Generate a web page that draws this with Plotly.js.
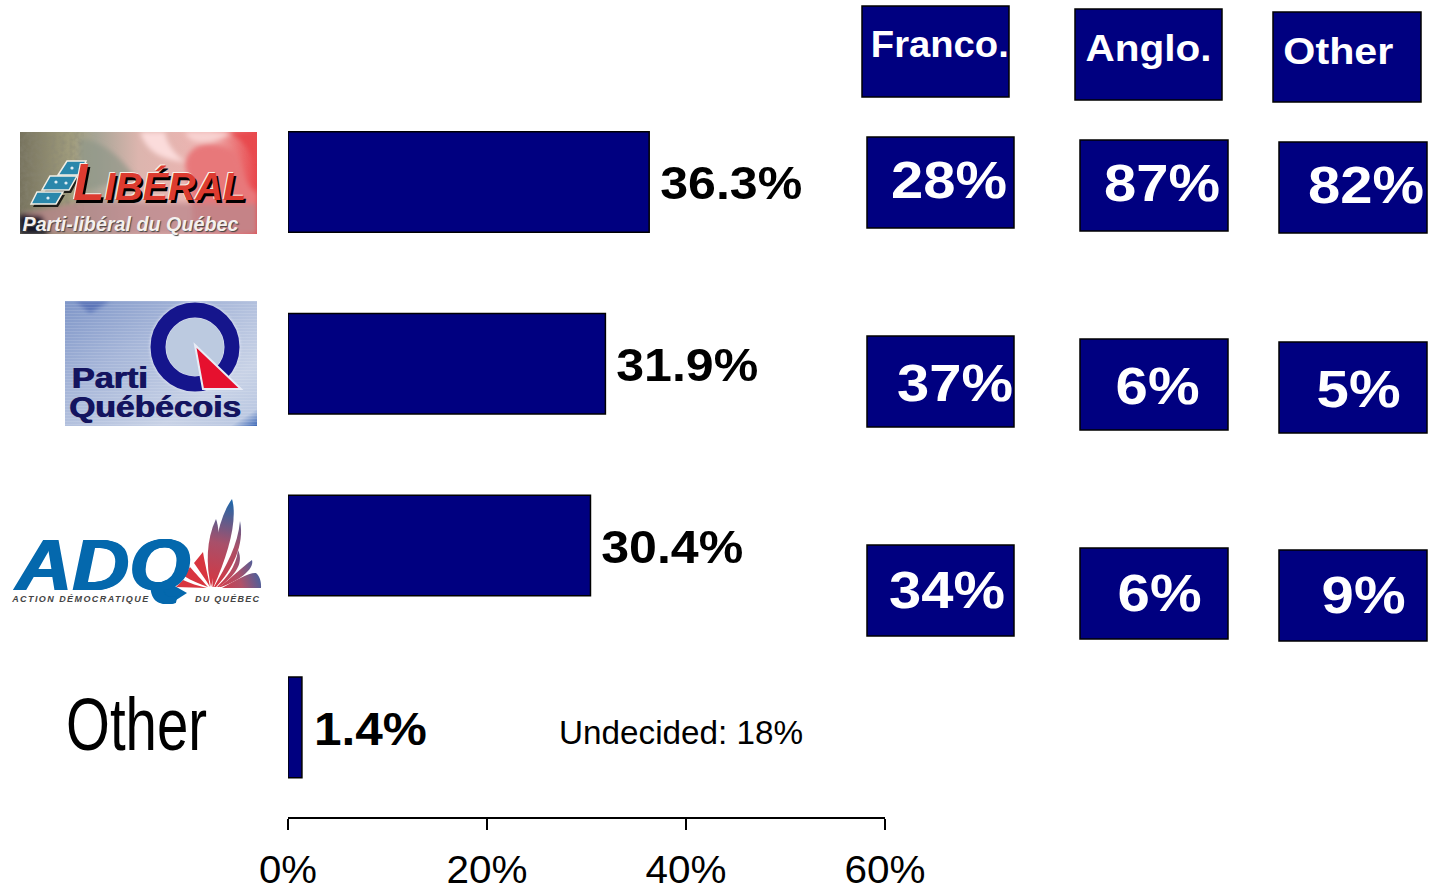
<!DOCTYPE html>
<html><head><meta charset="utf-8">
<script src="https://cdn.plot.ly/plotly-3.0.1.min.js"></script>
<style>html,body{margin:0;padding:0;background:#fff;overflow:hidden}#c{width:1435px;height:890px}</style>
</head><body><div id="c"></div>
<script>
// ---- data ----
const parties = ['Liberal', 'PQ', 'ADQ', 'Other'];
const share = [36.3, 31.9, 30.4, 1.4];
const franco = [28, 37, 34];
const anglo = [87, 6, 6];
const otherLang = [82, 5, 9];
const groupNames = ['Franco.', 'Anglo.', 'Other'];
const axisTicks = [0, 20, 40, 60];
const undecidedText = 'Undecided: 18%';

// ---- layout helpers ----
const L = 288, R = 885, T = 91, B = 817;
const px = x => (x - L) / (R - L);
const py = y => (B - y) / (B - T);
const NAVY = '#000080';
const SANS = '"Liberation Sans", Arial, sans-serif';

const shapes = [], annotations = [], images = [], stretched = [];
function box(x0, y0, x1, y1) {
  shapes.push({type: 'rect', xref: 'paper', yref: 'paper', x0: px(x0), x1: px(x1), y0: py(y0), y1: py(y1),
    fillcolor: NAVY, line: {color: '#000', width: 1.5}});
}
function label(text, x, y, size, opts) {
  opts = opts || {};
  if (opts.width) stretched.push({i: annotations.length, width: opts.width, adjust: opts.adjust || 'spacingAndGlyphs'});
  annotations.push({text, xref: 'paper', yref: 'paper', x: px(x), y: py(y),
    xanchor: opts.anchor || 'center', yanchor: 'middle', showarrow: false, borderpad: 0,
    font: Object.assign({family: opts.family || SANS, size, color: opts.color || '#000',
      weight: opts.weight || 400, style: opts.style || 'normal'}, opts.shadow ? {shadow: opts.shadow} : {})});
}
function art(svg, x, y, w, h) {
  images.push({source: 'data:image/svg+xml;utf8,' + encodeURIComponent(svg),
    xref: 'paper', yref: 'paper', x: px(x), y: py(y), sizex: w / (R - L), sizey: h / (B - T),
    xanchor: 'left', yanchor: 'top', sizing: 'stretch', layer: 'above'});
}

// language group header boxes and value boxes
const headerBoxes = [[862, 6, 1009, 97], [1075, 9, 1222, 100], [1273, 12, 1421, 102]];
headerBoxes.forEach(b => box(...b));
label(groupNames[0], 940, 45, 37, {color: '#fff', weight: 700, width: 138});
label(groupNames[1], 1148, 49, 37, {color: '#fff', weight: 700, width: 126});
label(groupNames[2], 1338, 51, 37, {color: '#fff', weight: 700, width: 110});

const rowTop = [[137, 140, 142], [336, 339, 342], [545, 548, 550]];
const rowTextOffset = [43, 47, 45];
const colX = [[867, 1014], [1080, 1228], [1279, 1427]];
const textCx = [[949, 1162, 1366], [955, 1157, 1358], [947, 1159, 1363]];
const groups = [franco, anglo, otherLang];
rowTop.forEach((row, r) => row.forEach((top, c) => {
  box(colX[c][0], top, colX[c][1], top + 91);
  const v = groups[c][r];
  label(v + '%', textCx[r][c], top + rowTextOffset[r], 52,
    {color: '#fff', weight: 700, width: v >= 10 ? 116 : 84});
}));

// bar value labels (stretched to the wide glyphs of the reference)
const labelGap = [11, 11, 11, 12];
const labelWidth = [142, 142, 142, 113];
share.forEach((v, i) => {
  stretched.push({i: annotations.length, width: labelWidth[i], adjust: 'spacingAndGlyphs'});
  annotations.push({text: v.toFixed(1) + '%', x: v, y: parties[i], xref: 'x', yref: 'y',
    xanchor: 'center', yanchor: 'middle', xshift: labelGap[i] + labelWidth[i] / 2, yshift: -1.5, showarrow: false, borderpad: 0,
    font: {family: SANS, size: 46, color: '#000', weight: 700}});
});
label(undecidedText, 681, 732, 33, {width: 244});
label('Other', 136.5, 724, 74, {width: 141});

// ---- logo artwork ----
art(`<svg xmlns="http://www.w3.org/2000/svg" width="237" height="102" viewBox="0 0 237 102">
<defs>
<linearGradient id="g" x1="0" x2="1" y1="0" y2="0"><stop offset="0" stop-color="#77735e"/><stop offset=".22" stop-color="#a29e7e"/><stop offset=".32" stop-color="#a7a596"/><stop offset=".5" stop-color="#dcb5ae"/><stop offset=".8" stop-color="#efb4b2"/><stop offset="1" stop-color="#e8474c"/></linearGradient>
<filter id="t"><feTurbulence type="fractalNoise" baseFrequency=".22" numOctaves="2" seed="4"/><feColorMatrix values="0 0 0 0 .25 0 0 0 0 .24 0 0 0 0 .18 0 0 0 1.3 -.45"/></filter>
<filter id="b"><feGaussianBlur stdDeviation="2.5"/></filter>
<filter id="b1"><feGaussianBlur stdDeviation=".6"/></filter>
</defs>
<rect width="237" height="102" fill="url(#g)"/>
<rect width="58" height="75" filter="url(#t)" opacity=".75"/>
<g filter="url(#b)">
<path d="M120 0C128 25 150 28 165 30C150 18 146 8 145 0Z" fill="#fbdcdb"/>
<path d="M165 0C170 15 195 12 215 0Z" fill="#f8d3d2"/>
<path d="M165 32C170 8 195 8 215 20C225 35 222 55 237 60L237 102L170 102C176 85 170 60 165 32Z" fill="#e8787a"/>
<path d="M205 0C225 5 228 20 237 30L237 0Z" fill="#e84a4e"/>
<path d="M60 6C80 10 95 18 115 45L60 60Z" fill="#8f9788" opacity=".7"/>
<path d="M0 82L60 70L237 72L237 102L0 102Z" fill="#b9878c" opacity=".75"/>
<path d="M0 82L22 84L30 102L0 102Z" fill="#141428"/>
</g>
<g filter="url(#b1)">
<g fill="#000" opacity=".8" transform="translate(2 3)"><path d="M47 29L66 29L60 43L38 43Z"/><path d="M30 43L57 43L49 58L22 58Z"/><path d="M17 60L43 60L36 72L11 72Z"/></g>
<g fill="#2b87ab" stroke="#f2efe6" stroke-width="1.5">
<path d="M47 29L66 29L60 43L38 43Z"/><path d="M30 44L57 44L49 58L22 58Z"/><path d="M17 60L43 60L36 72L11 72Z"/>
</g>
<g fill="#dfeef4"><circle cx="52" cy="36" r="1.6"/><circle cx="36" cy="50" r="1.6"/><circle cx="46" cy="51" r="1.6"/><circle cx="28" cy="66" r="1.6"/></g>
</g>
</svg>`, 20, 132, 237, 102);

art(`<svg xmlns="http://www.w3.org/2000/svg" width="192" height="125" viewBox="0 0 192 125">
<defs>
<linearGradient id="g" x1="0" x2="1" y1="0" y2="1"><stop offset="0" stop-color="#7f96c8"/><stop offset=".35" stop-color="#a5b5d8"/><stop offset=".75" stop-color="#c8d2e6"/><stop offset=".93" stop-color="#bcc9e2"/><stop offset="1" stop-color="#3a66b6"/></linearGradient>
<filter id="b"><feGaussianBlur stdDeviation="2"/></filter>
<filter id="h"><feGaussianBlur stdDeviation="1.5"/></filter>
<pattern id="s" width="4" height="3" patternUnits="userSpaceOnUse"><rect width="4" height="1" fill="#fff" opacity=".12"/></pattern>
</defs>
<rect width="192" height="125" fill="url(#g)"/>
<path d="M10 0L45 0L25 12Z" fill="#5b74b8" filter="url(#b)"/>
<rect width="192" height="125" fill="url(#s)"/>
<circle cx="130" cy="46" r="45" fill="#dfe4f4" filter="url(#h)"/>
<circle cx="130" cy="46" r="29" fill="#bccae0"/>
<circle cx="130" cy="46" r="37" fill="none" stroke="#15158c" stroke-width="15"/>
<path d="M130 44L176 88L138 88Z" fill="#e6102e" stroke="#e8ecf6" stroke-width="2"/>
</svg>`, 65, 301, 192, 125);

const f = (d, id) => `<path d="${d}" fill="url(#${id})"/>`;
art(`<svg xmlns="http://www.w3.org/2000/svg" width="120" height="112" viewBox="150 495 120 112">
<defs>
<linearGradient id="a" gradientUnits="userSpaceOnUse" x1="212" y1="588" x2="232" y2="499"><stop offset="0" stop-color="#d8353f"/><stop offset=".5" stop-color="#a8506a"/><stop offset="1" stop-color="#1868ad"/></linearGradient>
<linearGradient id="c" gradientUnits="userSpaceOnUse" x1="212" y1="588" x2="261" y2="570"><stop offset="0" stop-color="#d8353f"/><stop offset=".55" stop-color="#b05068"/><stop offset="1" stop-color="#3a62a4"/></linearGradient>
</defs>
<path d="M157 590L173 602L187 593L173 585Z" fill="#0468ad"/>
${f('M212.5 587C212 555 218 518 232 499C238 520 228 555 213.5 587Z', 'a')}
${f('M214 587C226 566 238 545 240 521C245 545 232 570 216 587Z', 'a')}
${f('M211 587C206 565 206 540 216 519C222 535 216 565 211.5 585Z', 'a')}
${f('M217 587C226 578 236 568 238 550C245 565 232 578 219 587Z', 'c')}
${f('M219 587C232 578 242 567 252 560C255 570 236 582 221 587Z', 'c')}
${f('M222 588C236 580 250 572 256 573C262 578 261 587 261 588Z', 'c')}
<path d="M210 587C208 575 205 565 203 552L194 563C200 572 206 580 210 587Z" fill="#d8353f"/>
<path d="M208 587C201 579 196 574 190 567L184 576C192 581 200 584 208 587Z" fill="#d8353f"/>
<path d="M207 588C198 586 190 583 183 580L176 587Z" fill="#d8353f"/>
</svg>`, 150, 495, 120, 112);

// logo wording
label('<span style="font-size:52px">L</span>IBÉRAL', 159, 182, 38, {color: '#dd3b30', weight: 700, style: 'italic', shadow: '2px 3px 0 #000, -1px -1px 0 #f7efe8'});
label('Parti-libéral du Québec', 130, 224, 20, {color: '#f4f0ee', weight: 700, style: 'italic', width: 216, shadow: '1px 1px 1px #444'});
label('Parti', 109, 377, 30, {color: '#14145f', weight: 700, width: 76, shadow: '1px 0 0 #14145f'});
label('Québécois', 154, 407, 30, {color: '#14145f', weight: 700, width: 172, shadow: '1px 0 0 #14145f'});
label('ADQ', 102, 565, 72, {color: '#0468ad', weight: 700, style: 'italic', width: 175, shadow: '1px 0 0 #0468ad, -1px 0 0 #0468ad'});
label('ACTION DÉMOCRATIQUE', 80, 599, 9, {color: '#444', weight: 700, style: 'italic', width: 136, adjust: 'spacing'});
label('DU QUÉBEC', 227, 599, 9, {color: '#444', weight: 700, style: 'italic', width: 64, adjust: 'spacing'});

const tickWidth = [58, 81, 81, 81];
Plotly.newPlot('c', [{
  type: 'bar', orientation: 'h', y: parties, x: share, width: 0.553,
  marker: {color: NAVY, line: {color: '#000', width: 1.5}}, hoverinfo: 'skip'
}], {
  width: 1435, height: 890, autosize: false, showlegend: false,
  margin: {l: L, r: 1435 - R, t: T, b: 890 - B, pad: 0},
  paper_bgcolor: '#fff', plot_bgcolor: '#fff',
  xaxis: {range: [0, 60], tickvals: axisTicks, ticktext: axisTicks.map(t => t + '%'),
    ticks: 'outside', ticklen: 11, tickwidth: 1.5, tickcolor: '#000', showline: true, linecolor: '#000', linewidth: 1.5,
    showgrid: false, zeroline: false, ticklabelstandoff: 8, fixedrange: true,
    tickfont: {family: SANS, size: 38, color: '#000'}},
  yaxis: {type: 'category', categoryorder: 'array', categoryarray: parties, autorange: false, range: [3.493, -0.5],
    showticklabels: false, ticks: '', showline: false, showgrid: false, zeroline: false, fixedrange: true},
  shapes, annotations, images
}, {displayModeBar: false, staticPlot: true}).then(gd => {
  stretched.forEach(s => {
    const t = gd.querySelector('g.annotation[data-index="' + s.i + '"] text.annotation-text');
    if (t) { t.setAttribute('textLength', s.width); t.setAttribute('lengthAdjust', s.adjust); }
  });
  gd.querySelectorAll('g.xtick text').forEach((t, i) => {
    t.setAttribute('textLength', tickWidth[i]); t.setAttribute('lengthAdjust', 'spacingAndGlyphs');
  });
});
</script></body></html>
